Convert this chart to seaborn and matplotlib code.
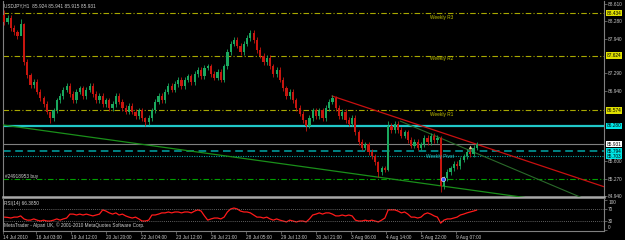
import numpy as np
import pandas as pd
import matplotlib
matplotlib.use("Agg")
import matplotlib.pyplot as plt
import matplotlib.transforms as mtransforms
from matplotlib import font_manager
import seaborn as sns

# ---------------- data (USDJPY H1, 3-hour steps) ----------------
first_open = 88.40
closes = [
    88.27, 88.34, 88.15, 88.07, 88.00, 88.23, 87.50, 87.25, 87.06, 87.12,
    86.93, 86.81, 86.70, 86.55, 86.43, 86.58, 86.77, 86.85, 86.97, 87.04,
    86.89, 86.77, 86.93, 87.00, 86.85, 86.97, 87.04, 86.89, 86.77, 86.85,
    86.70, 86.77, 86.62, 86.70, 86.85, 86.74, 86.62, 86.55, 86.66, 86.55,
    86.47, 86.58, 86.43, 86.35, 86.43, 86.58, 86.74, 86.85, 86.77, 86.93,
    87.04, 86.97, 87.08, 87.16, 87.04, 87.16, 87.23, 87.12, 87.27, 87.35,
    87.23, 87.39, 87.42, 87.27, 87.20, 87.31, 87.16, 87.42, 87.69, 87.85,
    87.92, 87.81, 87.69, 87.85, 87.96, 88.06, 87.92, 87.73, 87.62, 87.50,
    87.58, 87.42, 87.27, 87.35, 87.16, 87.00, 86.85, 86.93, 86.77, 86.62,
    86.51, 86.39, 86.28, 86.43, 86.58, 86.47, 86.58, 86.43, 86.62, 86.74,
    86.81, 86.62, 86.47, 86.55, 86.39, 86.32, 86.43, 86.16, 85.97, 85.86,
    85.93, 85.78, 85.70, 85.59, 85.40, 85.47, 85.44, 86.28, 86.20, 86.32,
    86.20, 86.09, 86.16, 86.01, 85.90, 85.97, 85.86, 85.93, 86.05, 85.97,
    86.09, 86.01, 86.05, 85.13, 85.28, 85.40, 85.47, 85.55, 85.51, 85.63,
    85.70, 85.78, 85.74, 85.86, 85.931,
]
wick_extremes = {  # candle index: (high, low)
    0: (88.50, 88.20), 5: (88.32, 88.05), 6: (88.25, 87.45), 14: (86.50, 86.33),
    43: (86.45, 86.28), 75: (88.12, 87.90), 92: (86.40, 86.18), 100: (86.87, 86.70),
    114: (85.60, 85.30), 117: (86.38, 85.42), 133: (86.08, 85.02),
}
rsi = [
    43, 42, 40, 43, 43, 47, 37, 33, 33, 37,
    33, 30, 33, 30, 30, 33, 37, 33, 37, 40,
    53, 53, 50, 53, 50, 53, 50, 47, 50, 53,
    67, 63, 57, 53, 57, 50, 53, 47, 43, 40,
    43, 37, 30, 30, 33, 50, 50, 53, 57, 57,
    60, 57, 60, 60, 57, 60, 60, 57, 63, 67,
    63, 47, 33, 37, 40, 40, 37, 43, 60, 70,
    73, 70, 63, 60, 60, 57, 50, 43, 43, 40,
    43, 37, 33, 37, 33, 30, 27, 33, 30, 27,
    30, 30, 27, 37, 50, 53, 57, 53, 57, 57,
    53, 47, 47, 50, 47, 50, 47, 33, 30, 30,
    33, 30, 33, 30, 27, 33, 40, 67, 67, 67,
    63, 57, 60, 53, 43, 43, 40, 43, 53, 57,
    53, 47, 43, 23, 33, 37, 37, 40, 43, 50,
    53, 57, 60, 63, 66.385,
]
price_ticks = [88.610, 88.280, 87.940, 87.290, 86.940, 85.600, 85.270, 84.940]
rsi_ticks = [100, 70, 30, 0]
rsi_levels = [70, 30]
time_labels = ["14 Jul 2010", "16 Jul 03:00", "19 Jul 12:00", "20 Jul 20:00",
               "22 Jul 04:00", "23 Jul 12:00", "26 Jul 21:00", "28 Jul 05:00",
               "29 Jul 13:00", "30 Jul 21:00", "3 Aug 06:00", "4 Aug 14:00",
               "5 Aug 22:00", "9 Aug 07:00"]
time_label_bars = [2, 32, 64, 96, 128, 160, 192, 224, 256, 288, 320, 352, 384, 416]

weekly_names = ["Weekly R3", "Weekly R2", "Weekly R1", "Weekly Pivot"]
weekly_prices = [88.434, 87.624, 86.574, 85.703]
support_line = 86.280
bid_price = 85.931
dash_line = 85.794
order_price = 85.265
order_label = "#24918953 buy"

trend_red = [(302.6, 86.851), (560.0, 85.056)]
trend_green = [(0.0, 86.302), (481.0, 84.904)]
trend_dkgreen = [(365.0, 86.371), (532.0, 84.897)]
buy_marker = (404.0, 85.265)
arrow_marker = (428.8, 85.876)

header = "USDJPY,H1  85.924 85.941 85.915 85.931"
rsi_title = "RSI(14) 66.3850"
footer = "MetaTrader - Alpari UK, \u00a9 2001-2010 MetaQuotes Software Corp."

# ---------------- style ----------------
names = {f.name for f in font_manager.fontManager.ttflist}
if "Liberation Sans Narrow" in names:
    FONT, FS = ["Liberation Sans Narrow", "DejaVu Sans"], 4.0
else:
    FONT, FS = ["Liberation Sans", "DejaVu Sans"], 3.4

sns.set_theme(style="dark", rc={"axes.facecolor": "black", "figure.facecolor": "black",
                                "axes.grid": False, "savefig.facecolor": "black"})
plt.rcParams["font.family"] = FONT

BULL, BEAR = "#1aa85e", "#c8160f"
GREY = "#808080"
TXT = "#d0d0d0"
YEL_LINE, YEL_TXT, YEL_BOX = "#a8a800", "#c4c400", "#e0e000"
CYAN, CYAN_BOX = "#20c8c8", "#00e6e6"
WICK_PAD = 0.05

W, H = 625, 240
fig = plt.figure(figsize=(W / 100, H / 100), dpi=100)


def box(x0, y0, x1, y1):
    return [x0 / W, 1 - y1 / H, (x1 - x0) / W, (y1 - y0) / H]


ax = fig.add_axes(box(3, 1, 604, 197))
ax2 = fig.add_axes(box(3, 199, 604, 231), sharex=ax)
XL = ((3 - 1) / 1.09375, (604 - 1) / 1.09375)

# ---------------- candles ----------------
df = pd.DataFrame({"bar": 3 + 3 * np.arange(len(closes)), "close": closes, "rsi": rsi})
df["open"] = [first_open] + closes[:-1]
body_lo = df[["open", "close"]].min(axis=1)
body_hi = df[["open", "close"]].max(axis=1)
df["high"] = body_hi + WICK_PAD
df["low"] = body_lo - WICK_PAD
for k, (h, l) in wick_extremes.items():
    df.loc[k, "high"] = h
    df.loc[k, "low"] = l
col = np.where(df["close"] >= df["open"], BULL, BEAR)
ax.vlines(df["bar"], df["low"], df["high"], colors=col, lw=0.6, zorder=4)
ax.bar(df["bar"], np.maximum(body_hi - body_lo, 0.008), bottom=body_lo, width=2.0,
       color=col, linewidth=0, zorder=5)

# ---------------- levels ----------------
for i, (nm, p) in enumerate(zip(weekly_names, weekly_prices)):
    if i < 3:
        ax.axhline(p, color=YEL_LINE, lw=0.8, dashes=(5, 2, 1, 2), zorder=2)
    else:
        ax.axhline(p, color="#00a8a8", lw=0.8, ls=(0, (1, 1.2)), zorder=2)
ax.axhline(support_line, color=CYAN, lw=1.6, zorder=2)
ax.axhline(bid_price, color=GREY, lw=0.8, zorder=2)
ax.axhline(dash_line, color="#00a8a8", lw=1.1, dashes=(5, 3), zorder=2)
ax.axhline(order_price, color="#00a000", lw=0.8, dashes=(5, 2, 1, 2), zorder=2)

for pts, c, lw in [(trend_red, "#c81010", 0.9), (trend_green, "#1a8f1a", 0.9),
                   (trend_dkgreen, "#2a6a2a", 0.8)]:
    tl = pd.DataFrame(pts, columns=["bar", "price"])
    sns.lineplot(data=tl, x="bar", y="price", ax=ax, color=c, lw=lw, zorder=3,
                 legend=False, estimator=None)

ax.scatter([buy_marker[0]], [buy_marker[1]], s=9, color="#3050ff", edgecolor="white",
           linewidth=0.4, zorder=7)
ax.scatter([arrow_marker[0]], [arrow_marker[1]], s=7, marker="^", color="#e0c890",
           linewidth=0, zorder=7)

# level texts
label_y = [88.343, 87.559, 86.488, 85.685]
for nm, y, c in zip(weekly_names, label_y, [YEL_TXT] * 3 + [CYAN]):
    ax.text(392 if nm != "Weekly Pivot" else 389, y, nm, color=c, fontsize=FS,
            ha="left", va="center", zorder=8)
ax.text(3.7, 85.32, order_label, color=TXT, fontsize=FS, ha="left", va="center", zorder=8)

# ---------------- axes ----------------
ax.set_xlim(*XL)
ax.set_ylim(84.920, 88.667)
ax.yaxis.tick_right()
ax.set_yticks(price_ticks)
ax.set_yticklabels([f"{v:.3f}" for v in price_ticks])
ax.tick_params(axis="y", which="both", right=True, left=False, length=2, width=0.5,
               color=GREY, labelcolor="#c8c8c8", labelsize=FS, pad=1)
ax.tick_params(axis="x", bottom=False, labelbottom=False)
ax.set_xlabel("")
ax.set_ylabel("")
for s in ["left", "right"]:
    ax.spines[s].set_color(GREY)
    ax.spines[s].set_linewidth(0.8)
ax.spines["top"].set_visible(False)
ax.spines["bottom"].set_color("#a8a8a8")
ax.spines["bottom"].set_linewidth(1.8)

trans = mtransforms.blended_transform_factory(ax.transAxes, ax.transData)
box_labels = [(weekly_prices[0], YEL_BOX), (weekly_prices[1], YEL_BOX),
              (weekly_prices[2], YEL_BOX), (support_line, CYAN_BOX),
              (bid_price, "white"), (weekly_prices[3], CYAN_BOX), (dash_line, CYAN_BOX)]
for v, fc in box_labels:
    ax.text(1.004, v, f"{v:.3f}", transform=trans, ha="left", va="center", fontsize=FS,
            color="black", bbox=dict(boxstyle="square,pad=0.15", fc=fc, ec="none"),
            clip_on=False, zorder=10)

# ---------------- RSI ----------------
sns.lineplot(data=df, x="bar", y="rsi", ax=ax2, color="#ff1a1a", lw=0.9,
             legend=False, estimator=None)
for lv in rsi_levels:
    ax2.axhline(lv, color=GREY, lw=0.6, ls=(0, (1, 1.5)))
ax2.set_xlim(*XL)
ax2.set_ylim(-3, 103)
ax2.yaxis.tick_right()
ax2.set_yticks(rsi_ticks)
ax2.set_yticklabels([str(v) for v in rsi_ticks])
ax2.tick_params(axis="y", right=True, left=False, length=2, width=0.5, color=GREY,
                labelcolor="#c8c8c8", labelsize=FS, pad=1)
tl = ax2.get_yticklabels()
tl[0].set_va("top")
tl[-1].set_va("bottom")
ax2.set_xticks(time_label_bars)
ax2.set_xticklabels(time_labels, ha="left")
ax2.tick_params(axis="x", bottom=True, length=2, width=0.5, color=GREY,
                labelcolor="#c8c8c8", labelsize=FS, pad=1)
ax2.set_xlabel("")
ax2.set_ylabel("")
for s in ["left", "right", "bottom"]:
    ax2.spines[s].set_color(GREY)
    ax2.spines[s].set_linewidth(0.8)
ax2.spines["top"].set_visible(False)

fig.text(4 / W, 1 - 5.5 / H, header, color=TXT, fontsize=FS, ha="left", va="center")
fig.text(4 / W, 1 - 203 / H, rsi_title, color=TXT, fontsize=FS, ha="left", va="center")
fig.text(4 / W, 1 - 225 / H, footer, color=TXT, fontsize=FS, ha="left", va="center")

fig.savefig("out.png", dpi=100, facecolor="black")
